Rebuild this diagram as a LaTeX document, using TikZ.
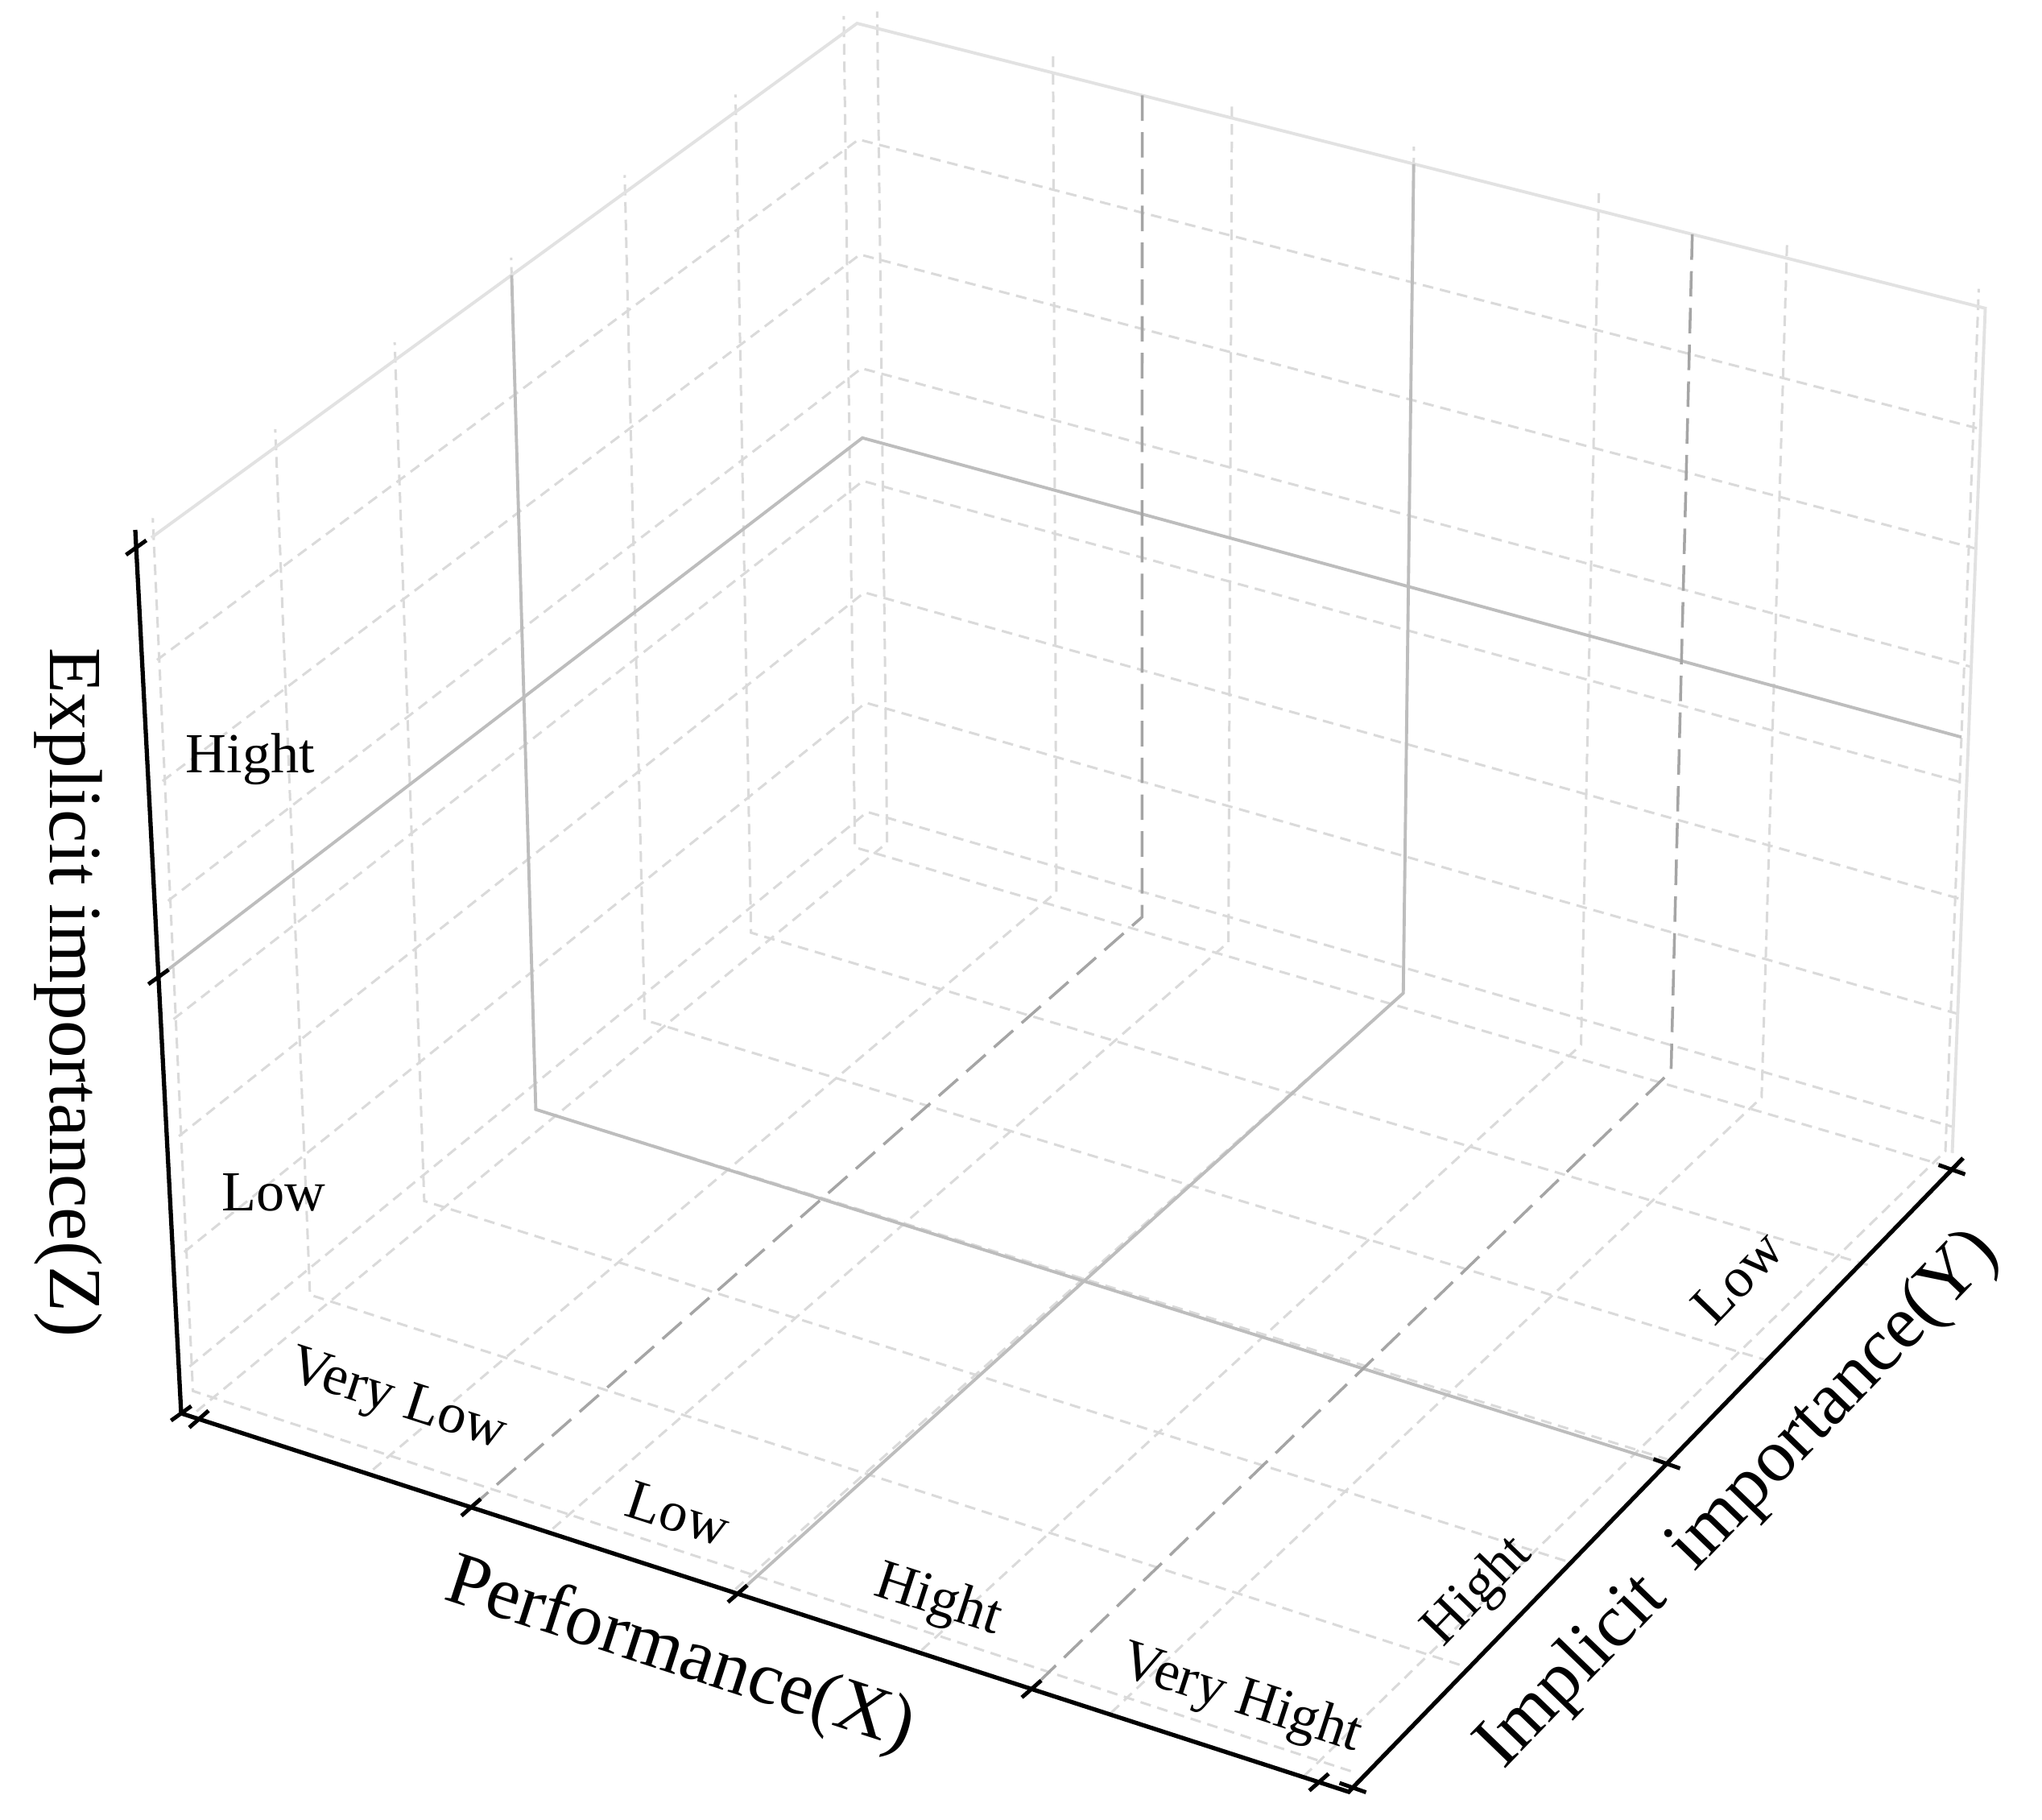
\documentclass[tikz,border=0pt]{standalone}
\usepackage{fontspec}
\setmainfont{Liberation Serif}
\usetikzlibrary{calc}
\definecolor{gridgray}{HTML}{DADADA}
\definecolor{edgegray}{HTML}{E2E2E2}
\definecolor{catgray}{HTML}{BDBDBD}
\definecolor{darkdash}{HTML}{A5A5A5}

\pgfkeys{/boxcs/p/.store in=\bcsp,/boxcs/q/.store in=\bcsq,/boxcs/r/.store in=\bcsr}
\tikzdeclarecoordinatesystem{box}{%
  \pgfkeys{/boxcs/.cd,p=0,q=0,r=0,#1}%
  \pgfmathsetmacro\bcsP{\bcsp}%
  \pgfmathsetmacro\bcsS{1-(\bcsq)}%
  \pgfmathsetmacro\bcsT{1-(\bcsr)}%
  \pgfmathsetmacro\bcsW{1-0.0512*(\bcsP)-0.0735*(\bcsS)+0.0385*(\bcsT)}%
  \pgfmathsetmacro\bcsX{(1065+1275.7*(\bcsP)-890.8*(\bcsS)+54.5*(\bcsT))/\bcsW}%
  \pgfmathsetmacro\bcsY{(29+334.4*(\bcsP)+589.9*(\bcsS)+1051.0*(\bcsT))/\bcsW}%
  \pgfpointxy{0.01*\bcsX}{-0.01*\bcsY}%
}

\tikzset{
  gridl/.style={draw=gridgray, line width=0.85pt, dash pattern=on 3.8pt off 2.4pt},
  paneedge/.style={draw=edgegray, line width=1.1pt},
  catsolid/.style={draw=catgray, line width=1.1pt},
  catdash/.style={draw=darkdash, line width=1.0pt, dash pattern=on 9pt off 4pt},
  axisline/.style={draw=black, line width=1.5pt},
  tickl/.style={draw=black, line width=1.4pt},
  catlab/.style={font=\fontsize{20}{24}\selectfont, inner sep=0pt},
  axlab/.style={font=\fontsize{26.5}{30}\selectfont, inner sep=0pt},
}

\begin{document}
\begin{tikzpicture}
\fill[white] (0,0) rectangle (25.36,-22.59);
\useasboundingbox (0,0) rectangle (25.36,-22.59);

% ---------- light dashed grid ----------
% horizontal lines on walls
\foreach \k in {0,...,6}{
  \pgfmathsetmacro\rr{0.032+0.1383*\k}
  \draw[gridl] (box cs:p=0,q=0,r=\rr) -- (box cs:p=0,q=1,r=\rr) -- (box cs:p=1,q=1,r=\rr);
}
% left wall verticals and floor lines of constant v
\foreach \k in {0,...,6}{
  \pgfmathsetmacro\qq{0.003+0.977*\k/6}
  \draw[gridl] (box cs:p=1.02,q=\qq,r=0) -- (box cs:p=0,q=\qq,r=0) -- (box cs:p=0,q=\qq,r=1.02);
}
% right wall verticals and floor lines of constant u
\foreach \k in {0,...,6}{
  \pgfmathsetmacro\pp{0.019+0.975*\k/6}
  \draw[gridl] (box cs:p=\pp,q=-0.02,r=0) -- (box cs:p=\pp,q=1,r=0) -- (box cs:p=\pp,q=1,r=1.02);
}

% ---------- pane edges ----------
\draw[paneedge] (box cs:p=0,q=0,r=1) -- (box cs:p=0,q=1,r=1) -- (box cs:p=1,q=1,r=1) -- (box cs:p=1,q=1,r=0);

% ---------- black axes ----------
\coordinate (Lp) at (2.25,-17.55);
\coordinate (Fp) at (16.75,-22.25);
\coordinate (Rp) at (24.38,-14.38);
\coordinate (Tp) at (1.68,-6.58);

\coordinate (xt0) at ($(Lp)!0.0152!(Fp)$);
\coordinate (xt1) at ($(Lp)!0.2483!(Fp)$);
\coordinate (xt2) at ($(Lp)!0.4766!(Fp)$);
\coordinate (xt3) at ($(Lp)!0.7283!(Fp)$);
\coordinate (xt4) at ($(Lp)!0.9745!(Fp)$);
\coordinate (yt0) at ($(Fp)!0.0066!(Rp)$);
\coordinate (yt1) at ($(Fp)!0.5177!(Rp)$);
\coordinate (yt2) at ($(Fp)!0.9817!(Rp)$);
\coordinate (zt0) at (Lp);
\coordinate (zt1) at ($(Lp)!0.494!(Tp)$);
\coordinate (zt2) at ($(Lp)!0.98!(Tp)$);

% ---------- category lines ----------
\draw[catsolid] (zt1) -- (box cs:p=0,q=1,r=0.5) -- (box cs:p=0.994,q=1,r=0.5);
\draw[catsolid] (box cs:p=0,q=0.4915,r=1) -- (box cs:p=0,q=0.4915,r=0) -- (yt1);
\draw[catsolid] (box cs:p=0.5065,q=1,r=1) -- (box cs:p=0.5065,q=1,r=0) -- (xt2);
\draw[catdash] (box cs:p=0.2628,q=1,r=1) -- (box cs:p=0.2628,q=1,r=0) -- (xt1);
\draw[catdash] (box cs:p=0.7503,q=1,r=1) -- (box cs:p=0.7503,q=1,r=0) -- (xt3);

\draw[axisline] (Tp) -- (Lp) -- (Fp) -- (Rp);
\foreach \c in {xt0,xt1,xt2,xt3,xt4}{
  \draw[tickl] ($(\c)+(-0.12,-0.105)$) -- ($(\c)+(0.12,0.105)$);
}
\foreach \c in {yt0,yt1,yt2}{
  \draw[tickl] ($(\c)+(-0.165,0.058)$) -- ($(\c)+(0.165,-0.058)$);
}
\foreach \c in {zt0,zt1,zt2}{
  \draw[tickl] ($(\c)+(-0.126,-0.09)$) -- ($(\c)+(0.126,0.09)$);
}

% ---------- labels ----------
\node[axlab, rotate=-90] (zlab) at (0.85,-12.32) {Explicit importance(Z)};
\node[axlab, rotate=-18] (xlab) at (8.44,-20.57) {Performance(X)};
\node[axlab, rotate=46] (ylab) at (21.60,-18.63) {Implicit~ importance(Y)};

\node[catlab, rotate=-18] (xc1) at (4.93,-17.41) {Very Low};
\node[catlab, rotate=-18] (xc2) at (8.42,-18.80) {Low};
\node[catlab, rotate=-18] (xc3) at (11.65,-19.89) {Hight};
\node[catlab, rotate=-18] (xc4) at (15.41,-21.11) {Very Hight};
\node[catlab, rotate=46] (yc1) at (18.36,-19.77) {Hight};
\node[catlab, rotate=46] (yc2) at (21.58,-15.86) {Low};
\node[catlab] (zc1) at (3.11,-9.43) {Hight};
\node[catlab] (zc2) at (3.40,-14.81) {Low};
\end{tikzpicture}
\end{document}
